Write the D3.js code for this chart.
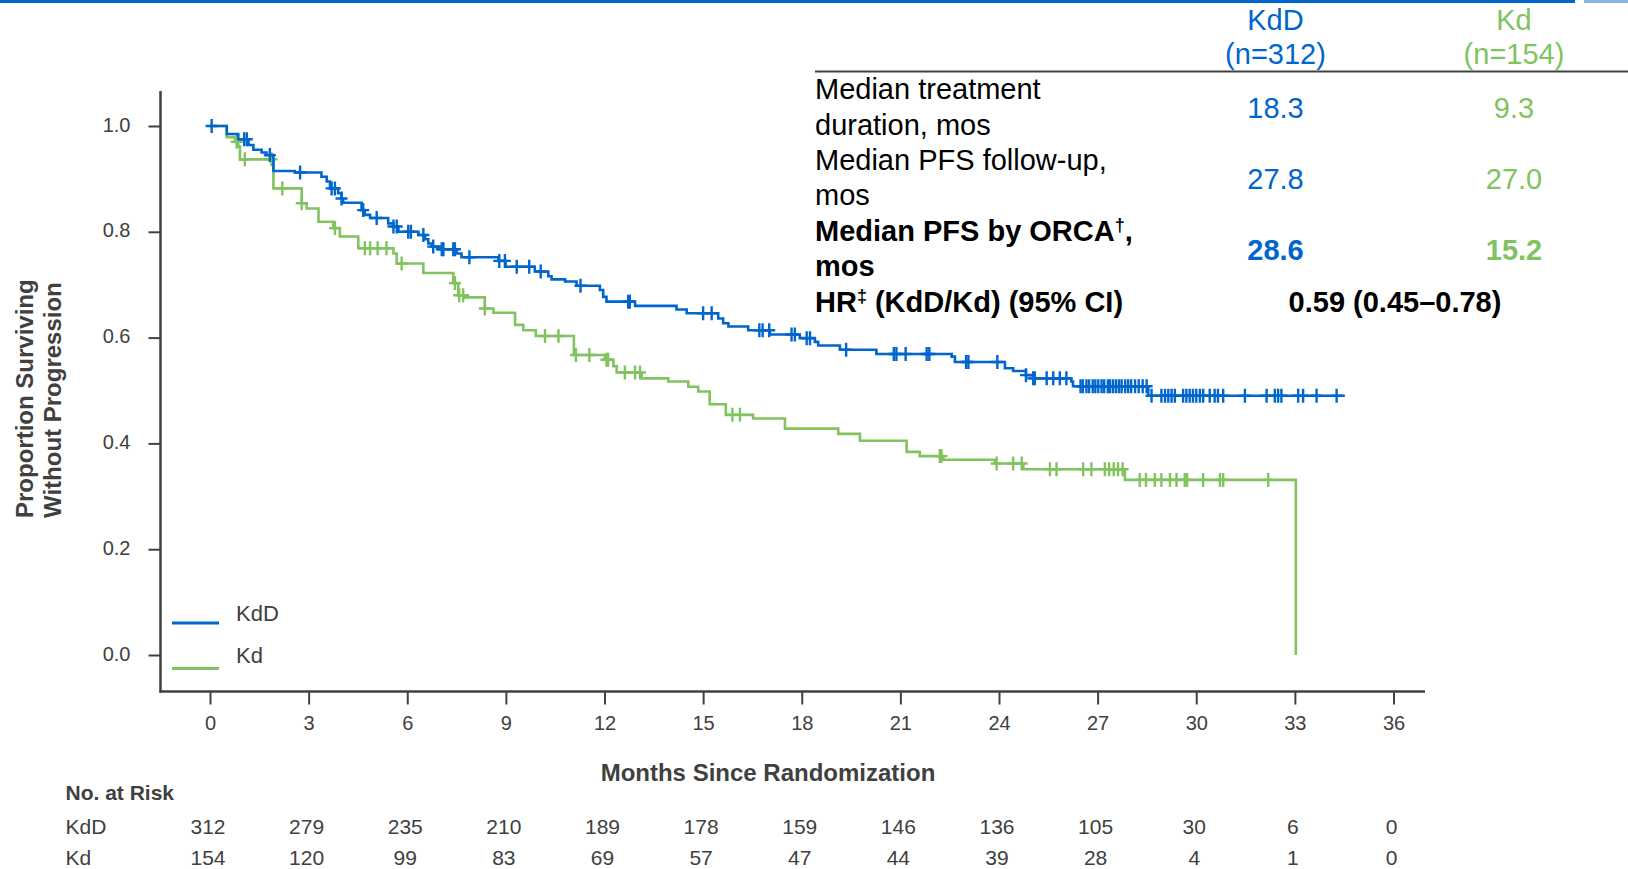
<!DOCTYPE html>
<html>
<head>
<meta charset="utf-8">
<script src="https://cdn.jsdelivr.net/npm/d3@7"></script>
<style>
  body { margin: 0; background: #fff; }
  svg { display: block; font-family: "Liberation Sans", Arial, sans-serif; }
</style>
</head>
<body>
<div id="chart"></div>
<script>
// ---- data ----
const monthTicks = [0, 3, 6, 9, 12, 15, 18, 21, 24, 27, 30, 33, 36];
const propTicks = [0, 0.2, 0.4, 0.6, 0.8, 1.0];

// KM steps: [month, proportion after the step]
const kddSteps = [
  [0, 1.0], [0.51, 0.985], [0.86, 0.975], [1.17, 0.964], [1.32, 0.955], [1.57, 0.95],
  [1.72, 0.945], [1.93, 0.915], [2.58, 0.912], [3.39, 0.904], [3.55, 0.895], [3.65, 0.882],
  [3.9, 0.873], [4.0, 0.863], [4.05, 0.855], [4.61, 0.841], [4.71, 0.832], [4.87, 0.826],
  [5.42, 0.816], [5.58, 0.81], [5.73, 0.8], [6.34, 0.794], [6.54, 0.786], [6.64, 0.778],
  [6.74, 0.772], [7.0, 0.767], [7.5, 0.759], [7.65, 0.752], [8.77, 0.745], [8.99, 0.734],
  [9.88, 0.725], [10.29, 0.716], [10.39, 0.71], [10.8, 0.706], [11.15, 0.698], [11.86, 0.69],
  [11.96, 0.677], [12.06, 0.668], [12.93, 0.66], [14.19, 0.653], [14.5, 0.646], [15.46, 0.636],
  [15.61, 0.627], [15.77, 0.621], [16.37, 0.614], [17.03, 0.606], [17.94, 0.599], [18.4, 0.592],
  [18.5, 0.585], [19.16, 0.577], [20.27, 0.569], [22.56, 0.564], [22.66, 0.554], [24.18, 0.542],
  [24.43, 0.537], [24.82, 0.529], [25.04, 0.523], [26.2, 0.517], [26.25, 0.508], [28.54, 0.49],
  [34.52, 0.49]
];
const kdSteps = [
  [0, 1.0], [0.51, 0.979], [0.76, 0.97], [0.86, 0.961], [0.91, 0.937], [1.93, 0.882],
  [2.79, 0.854], [2.94, 0.844], [3.3, 0.819], [3.75, 0.807], [3.95, 0.791], [4.51, 0.769],
  [5.58, 0.759], [5.68, 0.74], [6.49, 0.722], [7.4, 0.703], [7.55, 0.68], [7.76, 0.676],
  [8.36, 0.655], [8.62, 0.647], [9.28, 0.624], [9.53, 0.614], [9.91, 0.603], [11.07, 0.567],
  [12.01, 0.558], [12.27, 0.546], [12.37, 0.534], [13.13, 0.523], [13.94, 0.517], [14.55, 0.507],
  [14.85, 0.498], [15.2, 0.474], [15.69, 0.454], [16.52, 0.447], [17.49, 0.428], [19.11, 0.418],
  [19.77, 0.405], [21.19, 0.384], [21.59, 0.376], [22.3, 0.369], [23.88, 0.362], [24.74, 0.351],
  [27.83, 0.331], [33.03, 0.0]
];

// censored observations (months)
const kddCensored = [
  0.05, 1.04, 1.12, 1.82, 2.74, 3.7, 3.8, 4.0, 4.66, 5.07, 5.58, 5.68, 6.03, 6.11, 6.49, 6.79,
  7.05, 7.1, 7.4, 7.45, 7.89, 8.8, 8.97, 9.33, 9.71, 10.06, 11.27, 12.72, 12.77, 15.0, 15.26,
  16.71, 16.81, 17.01, 17.69, 17.79, 18.15, 18.25, 19.35, 20.8, 20.88, 21.16, 21.8, 21.88,
  23.0, 23.07, 23.95, 24.82, 25.04, 25.09, 25.45, 25.65, 25.85, 26.05,
  26.48, 26.55, 26.66, 26.74, 26.85, 26.93, 27.02, 27.12, 27.2, 27.31, 27.38, 27.47, 27.56,
  27.65, 27.73, 27.84, 27.93, 28.02, 28.14, 28.25, 28.37,
  28.49, 28.64, 28.94, 29.05, 29.15, 29.25, 29.35, 29.6, 29.7, 29.8, 29.9, 30.0, 30.11, 30.21,
  30.41, 30.56, 30.66, 30.82, 31.48, 32.14, 32.39, 32.49, 32.59, 33.1, 33.25, 33.66, 34.27
];
const kdCensored = [
  0.81, 1.06, 1.87, 2.2, 2.79, 3.8, 4.71, 4.87, 5.1, 5.37, 5.83, 7.45, 7.58, 7.7, 8.36, 10.19,
  10.6, 11.13, 11.54, 12.06, 12.11, 12.62, 12.93, 13.08, 15.89, 16.12, 22.2, 22.25, 23.93,
  24.43, 24.69, 25.55, 25.75, 26.56, 26.81, 27.22, 27.35, 27.49, 27.62, 27.76, 28.28, 28.47,
  28.74, 28.94, 29.2, 29.4, 29.65, 29.72, 30.21, 30.72, 30.82, 32.19
];

const riskKdD = [312, 279, 235, 210, 189, 178, 159, 146, 136, 105, 30, 6, 0];
const riskKd = [154, 120, 99, 83, 69, 57, 47, 44, 39, 28, 4, 1, 0];

const armNames = ["KdD", "Kd"];
const armN = ["(n=312)", "(n=154)"];
const rowLabels = [
  ["Median treatment", "duration, mos"],
  ["Median PFS follow-up,", "mos"],
  ["Median PFS by ORCA†,", "mos"],
];
const rowKdD = ["18.3", "27.8", "28.6"];
const rowKd = ["9.3", "27.0", "15.2"];
const rowBold = [false, false, true];
const hrLabel = "HR‡ (KdD/Kd) (95% CI)";
const hrValue = "0.59 (0.45–0.78)";

// ---- style ----
const W = 1628, H = 869;
const blue = "#0066cc", green = "#80c35f", ink = "#404040";

const svg = d3.select("#chart").append("svg").attr("width", W).attr("height", H);

// top banner
svg.append("rect").attr("x", 0).attr("y", 0).attr("width", 1575).attr("height", 3).attr("fill", blue);
svg.append("rect").attr("x", 1584).attr("y", 0).attr("width", 44).attr("height", 3).attr("fill", "#8db4e2");

const x = d3.scaleLinear().domain([0, 36]).range([210, 1393.5]);
const y = d3.scaleLinear().domain([0, 1]).range([655, 126]);

// axes
const xAxis = svg.append("g")
  .attr("transform", "translate(0,691.5)")
  .call(d3.axisBottom(x).tickValues(monthTicks).tickSize(13).tickPadding(11));
const yAxis = svg.append("g")
  .attr("transform", "translate(160.5,0)")
  .call(d3.axisLeft(y).tickValues(propTicks).tickFormat(d3.format(".1f")).tickSize(12).tickPadding(18));

[xAxis, yAxis].forEach((g) => {
  g.select(".domain").remove();
  g.attr("font-family", null).attr("font-size", null);
  g.selectAll("line").attr("stroke", ink).attr("stroke-width", 2);
  g.selectAll("text").attr("fill", ink).style("font-size", "20px");
});
yAxis.selectAll("text").attr("dy", "0.25em");

svg.append("line").attr("x1", 160.5).attr("x2", 160.5).attr("y1", 91).attr("y2", 692.5)
  .attr("stroke", ink).attr("stroke-width", 2.5);
svg.append("line").attr("x1", 159.5).attr("x2", 1425).attr("y1", 691.5).attr("y2", 691.5)
  .attr("stroke", ink).attr("stroke-width", 2.5);

// axis titles
const yTitle = svg.append("text")
  .attr("transform", "translate(33,518) rotate(-90)")
  .attr("fill", ink).attr("font-weight", "bold").style("font-size", "24px");
yTitle.append("tspan").attr("x", 0).attr("y", 0).text("Proportion Surviving");
yTitle.append("tspan").attr("x", 0).attr("y", 28).text("Without Progression");

svg.append("text").attr("x", 768).attr("y", 781).attr("text-anchor", "middle")
  .attr("fill", ink).attr("font-weight", "bold").style("font-size", "24px")
  .text("Months Since Randomization");

// curves (green under blue)
const line = d3.line().x((d) => x(d[0])).y((d) => y(d[1])).curve(d3.curveStepAfter);
const bisect = d3.bisector((d) => d[0]).right;
const survAt = (steps, t) => steps[Math.max(0, bisect(steps, t) - 1)][1];

const arms = [
  { steps: kdSteps, censored: kdCensored, color: green },
  { steps: kddSteps, censored: kddCensored, color: blue },
];
arms.forEach((a) => {
  svg.append("path").datum(a.steps).attr("d", line)
    .attr("fill", "none").attr("stroke", a.color).attr("stroke-width", 2.6);

  // censor marks "+"
  svg.append("g").selectAll("path").data(a.censored).join("path")
    .attr("d", (t) => {
      const cx = x(t), cy = y(survAt(a.steps, t));
      return `M${cx - 6},${cy}H${cx + 6}M${cx},${cy - 7}V${cy + 7}`;
    })
    .attr("stroke", a.color).attr("stroke-width", 2.4).attr("fill", "none");
});

// legend
[[blue, "KdD", 623, 620.7], [green, "Kd", 668.5, 663.3]].forEach(([c, name, ly, ty]) => {
  svg.append("line").attr("x1", 172).attr("x2", 219).attr("y1", ly).attr("y2", ly)
    .attr("stroke", c).attr("stroke-width", 3);
  svg.append("text").attr("x", 236).attr("y", ty).attr("fill", ink).style("font-size", "22px").text(name);
});

// number at risk
svg.append("text").attr("x", 65.5).attr("y", 800).attr("fill", ink)
  .attr("font-weight", "bold").style("font-size", "21px").text("No. at Risk");
[[riskKdD, "KdD", 834.3], [riskKd, "Kd", 865]].forEach(([vals, name, ry]) => {
  svg.append("text").attr("x", 65.5).attr("y", ry).attr("fill", ink).style("font-size", "21px").text(name);
  svg.append("g").selectAll("text").data(vals).join("text")
    .attr("x", (d, i) => x(monthTicks[i]) - 2).attr("y", ry)
    .attr("text-anchor", "middle").attr("fill", ink).style("font-size", "21px")
    .text((d) => d);
});

// summary table
const table = svg.append("g").style("font-size", "29px");

// write text with the dagger marks as superscripts
function richText(sel, str) {
  str.split(/([†‡])/).forEach((part) => {
    if (!part) return;
    const t = sel.append("tspan").text(part);
    if (part === "†" || part === "‡") {
      t.attr("baseline-shift", "super").style("font-size", "18px");
    }
  });
}

const colX = [1275.5, 1514];
const armColor = [blue, green];
armNames.forEach((n, i) => {
  table.append("text").attr("x", colX[i]).attr("y", 29.5).attr("text-anchor", "middle")
    .attr("fill", armColor[i]).text(n);
  table.append("text").attr("x", colX[i]).attr("y", 63.5).attr("text-anchor", "middle")
    .attr("fill", armColor[i]).text(armN[i]);
});
table.append("line").attr("x1", 815).attr("x2", W).attr("y1", 71.5).attr("y2", 71.5)
  .attr("stroke", ink).attr("stroke-width", 2);

const rowTop = [99.3, 170, 240.7];
rowLabels.forEach((lines, r) => {
  const w = rowBold[r] ? "bold" : "normal";
  lines.forEach((ln, k) => {
    const t = table.append("text").attr("x", 815).attr("y", rowTop[r] + k * 35.4)
      .attr("fill", "#000").attr("font-weight", w);
    richText(t, ln);
  });
  const vy = rowTop[r] + 18.8;
  table.append("text").attr("x", colX[0]).attr("y", vy).attr("text-anchor", "middle")
    .attr("fill", blue).attr("font-weight", w).text(rowKdD[r]);
  table.append("text").attr("x", colX[1]).attr("y", vy).attr("text-anchor", "middle")
    .attr("fill", green).attr("font-weight", w).text(rowKd[r]);
});

const hr = table.append("text").attr("x", 815).attr("y", 311.7).attr("fill", "#000").attr("font-weight", "bold");
richText(hr, hrLabel);
table.append("text").attr("x", 1395).attr("y", 311.7).attr("text-anchor", "middle")
  .attr("fill", "#000").attr("font-weight", "bold").text(hrValue);
</script>
</body>
</html>
